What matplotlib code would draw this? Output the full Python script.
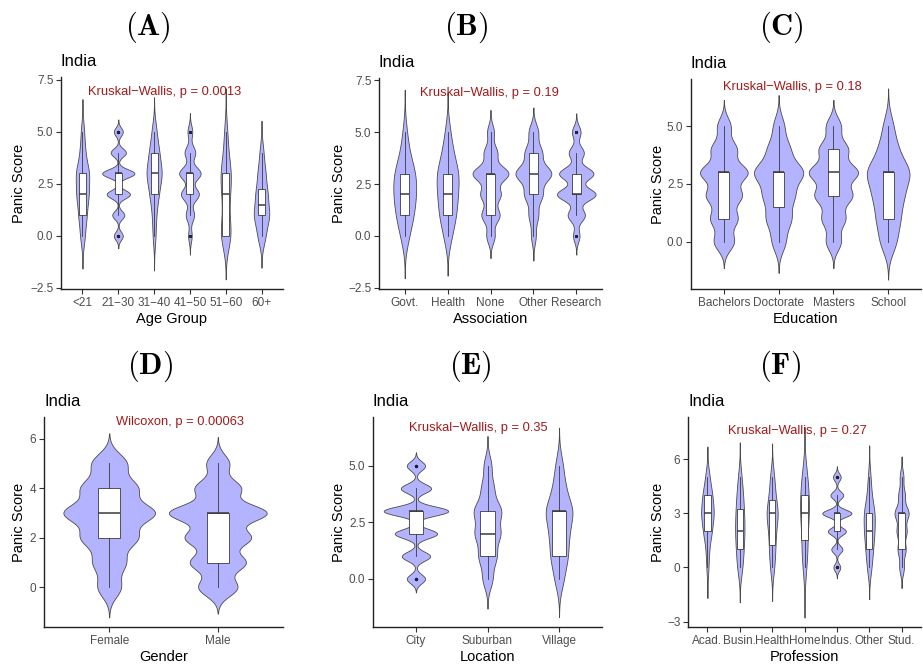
import numpy as np
import matplotlib
matplotlib.use("Agg")
import matplotlib.pyplot as plt
from matplotlib.transforms import blended_transform_factory

plt.rcParams['font.family'] = ['Liberation Sans', 'DejaVu Sans']
plt.rcParams['mathtext.fontset'] = 'cm'

# ---------------- data (counts of respondents at each panic score) ----------------
scores = [0, 1, 2, 3, 4, 5]

age_groups = ['<21', '21\u221230', '31\u221240', '41\u221250', '51\u221260', '60+']
age_counts = [[7, 12, 18, 20, 8, 5],
              [40, 54, 104, 144, 68, 40],
              [3, 4, 9, 16, 10, 5],
              [3, 7, 15, 18, 9, 4],
              [11, 5, 7, 10, 4, 3],
              [2, 4, 3, 2, 1, 0]]

assoc_groups = ['Govt.', 'Health', 'None', 'Other', 'Research']
assoc_counts = [[2, 4, 5, 5, 2, 1],
                [3, 6, 7, 8, 4, 2],
                [34, 74, 82, 147, 55, 28],
                [10, 20, 38, 76, 36, 20],
                [3, 8, 18, 16, 7, 4]]

edu_groups = ['Bachelors', 'Doctorate', 'Masters', 'School']
edu_counts = [[54, 72, 94, 126, 68, 36],
              [5, 9, 11, 18, 8, 4],
              [34, 53, 84, 110, 65, 34],
              [8, 11, 14, 21, 9, 5]]

gender_groups = ['Female', 'Male']
gender_counts = [[24, 33, 57, 93, 57, 36],
                 [72, 102, 120, 180, 84, 42]]

loc_groups = ['City', 'Suburban', 'Village']
loc_counts = [[38, 59, 88, 134, 63, 38],
              [18, 32, 45, 49, 22, 14],
              [6, 11, 12, 18, 8, 5]]

prof_groups = ['Acad.', 'Busin.', 'Health', 'Home', 'Indus.', 'Other', 'Stud.']
prof_counts = [[2, 3, 8, 12, 9, 4],
               [6, 8, 10, 9, 7, 4],
               [5, 7, 8, 14, 7, 5],
               [1, 2, 1, 3, 2, 2],
               [32, 52, 84, 136, 60, 36],
               [5, 8, 11, 12, 5, 3],
               [38, 65, 80, 114, 53, 30]]

panel_letters = ['(A)', '(B)', '(C)', '(D)', '(E)', '(F)']
x_titles = ['Age Group', 'Association', 'Education', 'Gender', 'Location', 'Profession']
test_labels = ['Kruskal\u2212Wallis, p = 0.0013', 'Kruskal\u2212Wallis, p = 0.19',
               'Kruskal\u2212Wallis, p = 0.18', 'Wilcoxon, p = 0.00063',
               'Kruskal\u2212Wallis, p = 0.35', 'Kruskal\u2212Wallis, p = 0.27']
y_ticks = [[-2.5, 0, 2.5, 5, 7.5], [-2.5, 0, 2.5, 5, 7.5], [0, 2.5, 5],
           [0, 2, 4, 6], [0, 2.5, 5], [-3, 0, 3, 6]]

# ---------------- layout / style ----------------
W, H = 923, 666
axes_px = [(61, 77, 283, 289), (379, 78, 602, 289), (691, 79, 921, 289),
           (44, 417, 283, 627), (373, 417, 602, 627), (688, 417, 921, 627)]
ylims = [(-2.55, 7.63), (-2.55, 7.6), (-2.05, 7.05), (-1.6, 6.87), (-2.13, 7.16), (-3.3, 8.33)]
ylab_x = [18, 338, 657, 18, 338, 657]      # centre of y title (px)
xlab_y = [317, 317, 317, 655, 655, 655]    # centre of x title (px)
ann_pos = [(88, 6.9), (420, 6.87), (723, 6.7), (116, 6.67), (409, 6.69), (728, 7.55)]
letter_pos = [(148, 27.5), (466, 27.5), (781, 27.5), (150, 366), (470, 366), (780, 366)]
y_fmt = ['{:.1f}', '{:.1f}', '{:.1f}', '{:.0f}', '{:.1f}', '{:.0f}']

FILL = '#B3B3FF'
EDGE = '#4a4a4a'
BOXC = '#3a3a3a'
TICKC = '#4D4D4D'
RED = '#A31A1A'


def expand(counts):
    return np.repeat(np.array(scores, dtype=float), counts)


def nrd0(x):
    sd = np.std(x, ddof=1)
    q75, q25 = np.percentile(x, [75, 25])
    lo = min(sd, (q75 - q25) / 1.34)
    if lo <= 0:
        lo = sd if sd > 0 else 1.0
    return 0.9 * lo * len(x) ** -0.2


def kde(counts):
    x = expand(counts)
    bw = nrd0(x)
    y = np.linspace(x.min() - 3 * bw, x.max() + 3 * bw, 512)
    c = np.array(counts, dtype=float)
    v = np.array(scores, dtype=float)
    d = (c[None, :] * np.exp(-0.5 * ((y[:, None] - v[None, :]) / bw) ** 2)).sum(1)
    d /= (c.sum() * bw * np.sqrt(2 * np.pi))
    return y, d


fig = plt.figure(figsize=(W / 100, H / 100), dpi=100)

panels = [(age_groups, age_counts), (assoc_groups, assoc_counts), (edu_groups, edu_counts),
          (gender_groups, gender_counts), (loc_groups, loc_counts), (prof_groups, prof_counts)]

for i, (groups, counts) in enumerate(panels):
    l, t, r, b = axes_px[i]
    ax = fig.add_axes([l / W, 1 - b / H, (r - l) / W, (b - t) / H])
    k = len(groups)
    pos = np.arange(1, k + 1)
    dens = [kde(c) for c in counts]
    maxd = max(d.max() for _, d in dens)
    for p, (y, d) in zip(pos, dens):
        hw = 0.45 * d / maxd
        ax.fill_betweenx(y, p - hw, p + hw, facecolor=FILL, edgecolor=EDGE, linewidth=0.6, zorder=2)
    data = [expand(c) for c in counts]
    ax.boxplot(data, positions=pos, widths=0.2, whis=1.5, patch_artist=True,
               boxprops=dict(facecolor='white', edgecolor=BOXC, linewidth=0.6),
               medianprops=dict(color=BOXC, linewidth=1.1),
               whiskerprops=dict(color=BOXC, linewidth=0.6),
               capprops=dict(linewidth=0),
               flierprops=dict(marker='o', markersize=2.2, markerfacecolor='#222222',
                               markeredgecolor='none'),
               zorder=3)
    ax.set_xlim(0.4, k + 0.6)
    ax.set_ylim(*ylims[i])
    ax.set_xticks(pos)
    ax.set_xticklabels(groups)
    ax.set_yticks(y_ticks[i])
    ax.set_yticklabels([y_fmt[i].format(v).replace('-', '\u2212') for v in y_ticks[i]])
    for s in ['top', 'right']:
        ax.spines[s].set_visible(False)
    for s in ['left', 'bottom']:
        ax.spines[s].set_linewidth(1.0)
        ax.spines[s].set_color('#222222')
    ax.tick_params(axis='both', direction='out', length=3.5, width=0.8, color='#333333',
                   labelsize=8.5, labelcolor=TICKC, pad=2)
    ax.set_xlabel(x_titles[i], fontsize=10.5, color='black')
    ax.set_ylabel('Panic Score', fontsize=10.5, color='black')
    ax.yaxis.set_label_coords((ylab_x[i] + 8 - l) / (r - l), 0.5)
    ax.xaxis.set_label_coords(0.5, (b - (xlab_y[i] - 5)) / (b - t))
    ax.text(0.0, 1 + 15 / (b - t), 'India', transform=ax.transAxes, ha='left', va='center',
            fontsize=12, color='black')
    ax_x, ax_y = ann_pos[i]
    tr = blended_transform_factory(ax.transAxes, ax.transData)
    ax.text((ax_x - l) / (r - l), ax_y, test_labels[i], transform=tr, ha='left', va='center',
            fontsize=9.3, color=RED, zorder=5)
    lx, ly = letter_pos[i]
    fig.text(lx / W, 1 - ly / H, r'$\mathbf{' + panel_letters[i] + '}$', ha='center', va='center',
             fontsize=22)

fig.savefig('out.png', dpi=100)
